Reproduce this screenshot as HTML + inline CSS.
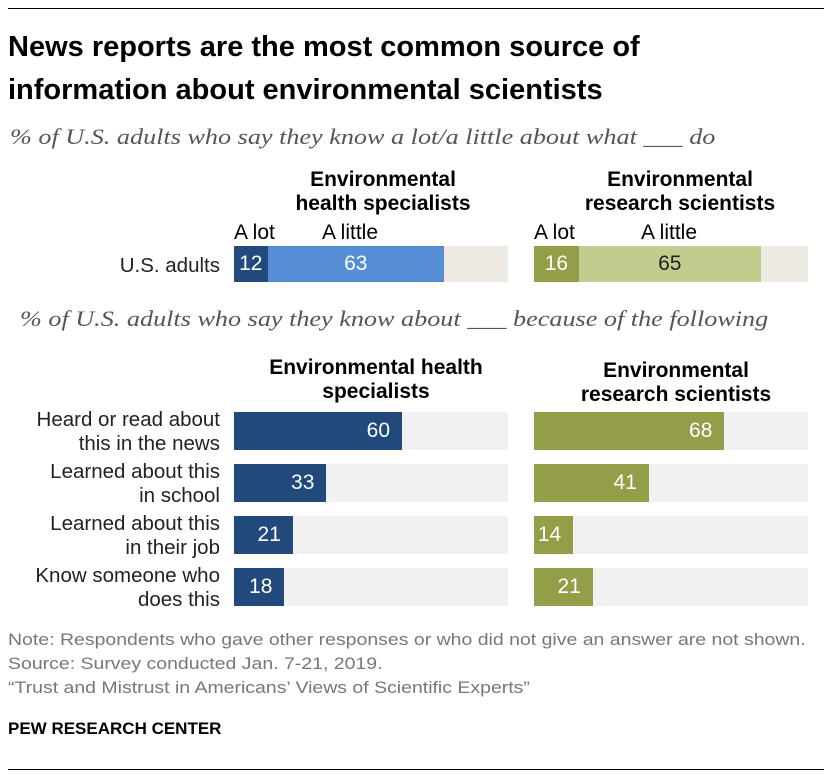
<!DOCTYPE html>
<html><head><meta charset="utf-8"><style>
body{margin:0;background:#fff;width:832px;height:778px;overflow:hidden;font-family:"Liberation Sans",sans-serif;position:relative}
.a{position:absolute;white-space:nowrap}
.t{font-weight:bold;font-size:29px;color:#000;left:8px;line-height:43px}
.sub{font-family:"Liberation Serif",serif;font-style:italic;font-size:22px;color:#555;transform:scaleX(1.19);transform-origin:left top}
.h{font-weight:bold;font-size:21px;text-align:center;line-height:24px}
.lab{font-size:20.5px;color:#222;text-align:right;line-height:24px}
.note{font-size:16.5px;color:#777;transform:scaleX(1.18);transform-origin:left top}
</style></head><body>
<div class="a" style="left:8px;top:8px;width:816px;height:1px;background:#000"></div>
<div class="a t" style="top:26px">News reports are the most common source of<br>information about environmental scientists</div>
<div class="a sub" style="left:10px;top:124px">% of U.S. adults who say they know a lot/a little about what ___ do</div>
<div class="a h" style="left:273px;width:220px;top:168px">Environmental<br>health specialists</div>
<div class="a h" style="left:560px;width:240px;top:168px">Environmental<br>research scientists</div>
<div class="a" style="left:234px;top:221px;font-size:21px">A lot</div>
<div class="a" style="left:322px;top:221px;font-size:21px">A little</div>
<div class="a" style="left:534px;top:221px;font-size:21px">A lot</div>
<div class="a" style="left:641px;top:221px;font-size:21px">A little</div>
<div class="a lab" style="right:612px;top:254px">U.S. adults</div>
<div class="a sub" style="left:20px;top:306px">% of U.S. adults who say they know about ___ because of the following</div>
<div class="a h" style="left:256px;width:240px;top:356px">Environmental health<br>specialists</div>
<div class="a h" style="left:556px;width:240px;top:359px">Environmental<br>research scientists</div>
<div id="chart"></div>
<div class="a note" style="left:8px;top:628px;line-height:24px">Note: Respondents who gave other responses or who did not give an answer are not shown.<br>Source: Survey conducted Jan. 7-21, 2019.<br>“Trust and Mistrust in Americans’ Views of Scientific Experts”</div>
<div class="a" style="left:8px;top:719px;font-weight:bold;font-size:17px">PEW RESEARCH CENTER</div>
<div class="a" style="left:8px;top:769px;width:816px;height:1px;background:#000"></div>
<script>
const topSeries=["Environmental health specialists","Environmental research scientists"];
const topALot=[12,16];
const topALittle=[63,65];
const categories=["Heard or read about|this in the news","Learned about this|in school","Learned about this|in their job","Know someone who|does this"];
const healthVals=[60,33,21,18];
const researchVals=[68,41,14,21];
const S=2.8;
const panelX=[234,534];
const c=document.getElementById('chart');
function rect(x,y,w,h,col,name){const d=document.createElement('div');d.className='a';d.style.cssText=`left:${x}px;top:${y}px;width:${w}px;height:${h}px;background:${col}`;


c.appendChild(d);return d;}
function txt(x,y,w,s,col,name,align){const d=document.createElement('div');d.className='a';d.textContent=s;d.style.cssText=`left:${x}px;top:${y}px;width:${w}px;text-align:${align||'center'};font-size:21px;line-height:24px;color:${col}`;


c.appendChild(d);}
const lotCol=["#234a7c","#949d48"],litCol=["#558ed5","#c4cb8e"],litTxt=["#fff","#222"];
for(let i=0;i<2;i++){const x=panelX[i],y=246,h=36;
rect(x,y,100*S-6,h,'#ede9e3','top-bar-bg');
const w1=topALot[i]*S,w2=topALittle[i]*S;
rect(x,y,w1,h,lotCol[i],'top-bar-a-lot');
rect(x+w1,y,w2,h,litCol[i],'top-bar-a-little');
txt(x,y+6,w1,topALot[i],'#fff','top-value-a-lot');
txt(x+w1,y+6,w2,topALittle[i],litTxt[i],'top-value-a-little');}
const cols=["#22497b","#949d48"],vals=[healthVals,researchVals];
categories.forEach((cat,j)=>{const y=412+j*52;
const l=document.createElement('div');l.className='a lab';l.innerHTML=cat.replace('|','<br>');l.style.right='612px';l.style.top=(y-4)+'px';


c.appendChild(l);
for(let i=0;i<2;i++){const x=panelX[i];
rect(x,y,100*S-6,38,'#f1f1f1','bar-bg');
const w=vals[i][j]*S;rect(x,y,w,38,cols[i],'bar');
txt(x,y+7,w-12,vals[i][j],'#fff','bar-value','right');}});
</script>
</body></html>
